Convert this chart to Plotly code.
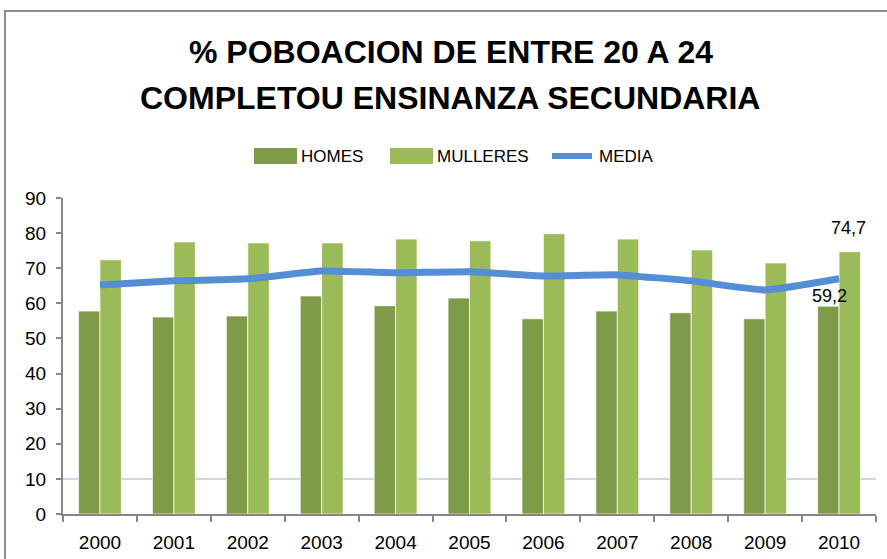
import plotly.graph_objects as go

years = ["2000", "2001", "2002", "2003", "2004", "2005", "2006", "2007", "2008", "2009", "2010"]
homes = [57.8, 56.1, 56.4, 62.1, 59.3, 61.5, 55.6, 57.8, 57.3, 55.6, 59.2]
mulleres = [72.4, 77.5, 77.2, 77.2, 78.3, 77.8, 79.8, 78.3, 75.2, 71.5, 74.7]
media = [65.2, 66.4, 67.0, 69.2, 68.7, 69.0, 67.8, 68.1, 66.4, 63.8, 67.0]
y_ticks = [0, 10, 20, 30, 40, 50, 60, 70, 80, 90]
ref_level = 10

C_HOMES = "#7f9a48"
C_MULL = "#9bbb59"
C_MEDIA = "#558ed5"
FONT = "Liberation Sans"

def fmt(v):
    return ("%.1f" % v).replace(".", ",")

fig = go.Figure()
fig.add_trace(go.Bar(
    x=years, y=homes, name="HOMES",
    marker=dict(color=C_HOMES, line=dict(color="rgba(255,255,255,0.7)", width=1)), showlegend=False))
fig.add_trace(go.Bar(
    x=years, y=mulleres, name="MULLERES",
    marker=dict(color=C_MULL, line=dict(color="rgba(255,255,255,0.7)", width=1)), showlegend=False))
fig.add_trace(go.Scatter(
    x=years, y=media, name="MEDIA", mode="lines",
    line=dict(color=C_MEDIA, width=7, shape="spline", smoothing=0.4), showlegend=False))

L, R, T, B = 63, 11, 198, 45
W, H = 887, 559
pw, ph = W - L - R, H - T - B

def px(x):
    return (x - L) / pw

def py(y):
    return (H - B - y) / ph

shapes = [
    dict(type="line", xref="paper", yref="y", x0=0, x1=1, y0=ref_level, y1=ref_level,
         line=dict(color="#c6d9f1", width=2), layer="below"),
    dict(type="rect", xref="paper", yref="paper", x0=px(5), x1=px(900), y0=py(600), y1=py(11),
         line=dict(color="#8c8c8c", width=2)),
    dict(type="rect", xref="paper", yref="paper", x0=px(254), x1=px(297), y0=py(164), y1=py(148),
         fillcolor=C_HOMES, line=dict(width=0)),
    dict(type="rect", xref="paper", yref="paper", x0=px(390), x1=px(433), y0=py(164), y1=py(148),
         fillcolor=C_MULL, line=dict(width=0)),
    dict(type="line", xref="paper", yref="paper", x0=px(552), x1=px(592), y0=py(156), y1=py(156),
         line=dict(color=C_MEDIA, width=6)),
]

last = len(years) - 1  # category index of the last year
annotations = [
    dict(text="HOMES", xref="paper", yref="paper", x=px(299), y=py(156), xanchor="left", yanchor="middle",
         showarrow=False, font=dict(family=FONT, size=17, color="black")),
    dict(text="MULLERES", xref="paper", yref="paper", x=px(435), y=py(156), xanchor="left", yanchor="middle",
         showarrow=False, font=dict(family=FONT, size=17, color="black")),
    dict(text="MEDIA", xref="paper", yref="paper", x=px(597), y=py(156), xanchor="left", yanchor="middle",
         showarrow=False, font=dict(family=FONT, size=17, color="black")),
    dict(text="<b>% POBOACION DE ENTRE 20 A 24</b>", xref="paper", yref="paper", x=px(451), y=py(52),
         xanchor="center", yanchor="middle", showarrow=False, font=dict(family=FONT, size=32, color="black")),
    dict(text="<b>COMPLETOU ENSINANZA SECUNDARIA</b>", xref="paper", yref="paper", x=px(450), y=py(98),
         xanchor="center", yanchor="middle", showarrow=False, font=dict(family=FONT, size=32, color="black")),
    # data labels on the last year
    dict(text=fmt(homes[last]), x=last, y=homes[last], xref="x", yref="y", xanchor="center", yanchor="bottom",
         xshift=-10, yshift=-2, showarrow=False, font=dict(family=FONT, size=18, color="black")),
    dict(text=fmt(mulleres[last]), x=last, y=mulleres[last], xref="x", yref="y", xanchor="center", yanchor="bottom",
         xshift=9, yshift=12, showarrow=False, font=dict(family=FONT, size=18, color="black")),
]

fig.update_layout(
    width=W, height=H,
    margin=dict(l=L, r=R, t=T, b=B, pad=0),
    paper_bgcolor="white", plot_bgcolor="white",
    barmode="group", bargap=0.42, bargroupgap=0,
    shapes=shapes, annotations=annotations,
    font=dict(family=FONT, size=18, color="black"),
    xaxis=dict(type="category", range=[-0.5, len(years) - 0.5], showline=True, linecolor="#868686", linewidth=2,
               ticks="outside", tickson="boundaries", ticklen=6, tickcolor="#868686", tickwidth=2,
               showgrid=False, tickfont=dict(family=FONT, size=19, color="black"), ticklabelstandoff=10,
               tickangle=0, automargin=False),
    yaxis=dict(range=[0, 90], tickvals=y_ticks, showline=True, linecolor="#868686", linewidth=2,
               ticks="outside", ticklen=5, tickcolor="#868686", tickwidth=2, ticklabelstandoff=6,
               showgrid=False, zeroline=False, tickfont=dict(family=FONT, size=19, color="black"),
               automargin=False),
)

fig.write_html("out.html", config={"displayModeBar": False},
               post_script="document.body.style.margin='0';document.body.style.padding='0';")
